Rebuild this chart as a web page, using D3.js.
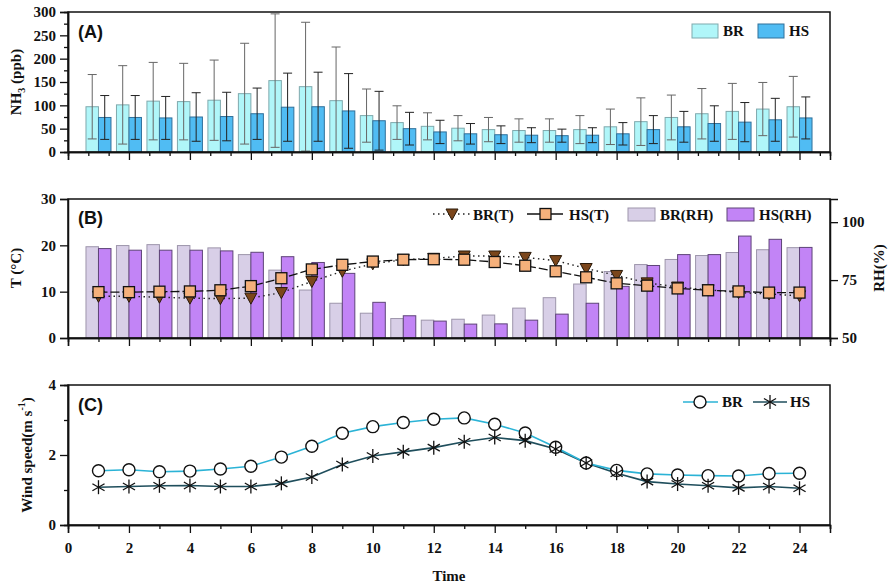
<!DOCTYPE html>
<html lang="en">
<head>
<meta charset="UTF-8">
<title>NH3, T/RH and wind speed diurnal</title>
<script src="https://d3js.org/d3.v7.min.js"></script>
<style>
    body { margin: 0; background: #fff; }
    svg text { font-family: "Liberation Serif", "Times New Roman", serif; font-weight: bold; fill: #111; }
    .tag { font-family: "Liberation Sans", Arial, sans-serif !important; }
    .axis path, .axis line { stroke: #111; }
</style>
</head>
<body>
<svg width="890" height="588"></svg>
<script>
    // ---- data ----
    const hours = [1,2,3,4,5,6,7,8,9,10,11,12,13,14,15,16,17,18,19,20,21,22,23,24];

    const nh3BR   = [97,101,109,108,111,125,153,140,110,78,63,55,51,48,46,46,48,54,65,74,82,87,92,97];
    const nh3BRsd = [69,84,83,82,86,108,143,138,115,57,36,29,27,26,25,25,30,38,51,48,54,60,57,65];
    const nh3HS   = [74,74,73,75,76,82,96,97,88,67,50,43,39,37,36,35,36,39,48,54,61,64,69,73];
    const nh3HSsd = [47,47,46,52,52,55,73,74,80,63,35,25,22,19,16,14,16,24,30,33,38,42,46,45];

    const tBR = [9.0,9.0,8.8,8.6,8.5,8.6,9.8,12.2,14.4,16.0,16.9,17.2,17.7,17.7,17.4,16.7,15.0,13.5,11.9,11.0,10.4,9.8,9.5,9.1];
    const tHS = [9.9,9.9,10.0,10.05,10.3,11.2,12.9,14.8,15.8,16.5,16.9,17.0,16.9,16.4,15.6,14.4,13.1,11.8,11.3,10.7,10.3,10.05,9.8,9.8];

    const rhBR = [89.4,89.9,90.3,89.9,88.9,86,79.3,70.7,65,60.7,58.4,57.7,58.1,59.9,62.9,67.4,73.3,78.7,81.7,83.9,85.6,86.9,88.1,89];
    const rhHS = [88.6,87.9,87.9,87.9,87.6,87,85.1,82.6,77.9,65.4,59.6,57.3,56,56.1,57.7,60.3,65,72.3,81.3,86,86,94,92.6,89.1];

    const windBR = [1.55,1.58,1.52,1.54,1.60,1.68,1.94,2.25,2.62,2.81,2.93,3.02,3.06,2.88,2.63,2.22,1.77,1.56,1.46,1.43,1.41,1.40,1.47,1.48];
    const windHS = [1.08,1.10,1.12,1.13,1.10,1.10,1.19,1.37,1.73,1.97,2.09,2.21,2.38,2.50,2.41,2.17,1.77,1.48,1.24,1.17,1.12,1.06,1.10,1.05];

    const xTicks = [0,2,4,6,8,10,12,14,16,18,20,22,24];

    // ---- layout ----
    const svg = d3.select("svg");
    const left = 68, right = 830;
    const x = d3.scaleLinear().domain([0, 25]).range([left, right]);
    const bw = (x(1) - x(0)) * 0.41;

    const yA = d3.scaleLinear().domain([0, 300]).range([152, 12]);
    const yT = d3.scaleLinear().domain([0, 30]).range([338, 199]);
    const yRH = d3.scaleLinear().domain([50, 110]).range([338, 199]);
    const yW = d3.scaleLinear().domain([0, 4]).range([525, 385]);

    function frame(y) {
        const [b, t] = y.range();
        svg.append("rect")
            .attr("x", left).attr("y", t)
            .attr("width", right - left).attr("height", b - t)
            .attr("fill", "none").attr("stroke", "#111").attr("stroke-width", 1.5);
    }

    function axisStyle(g) {
        g.attr("class", "axis");
        g.selectAll("path").attr("stroke-width", 1.5);
        g.selectAll("line").attr("stroke-width", 1.3);
        g.selectAll("text").style("font-size", "15px");
    }

    function bottomTicks(y, major, minor, labels) {
        const b = y.range()[0];
        svg.append("g").attr("transform", `translate(0,${b})`)
            .call(d3.axisBottom(x).tickValues(minor).tickSize(4).tickFormat(""))
            .call(axisStyle);
        const g = svg.append("g").attr("transform", `translate(0,${b})`)
            .call(d3.axisBottom(x).tickValues(major).tickSize(8).tickPadding(6)
                .tickFormat(labels ? d3.format("d") : ""))
            .call(axisStyle);
        g.selectAll("text").attr("dy", "0.9em");
    }

    function leftTicks(y, major, minor) {
        if (minor) {
            svg.append("g").attr("transform", `translate(${left},0)`)
                .call(d3.axisLeft(y).tickValues(minor).tickSize(4).tickFormat(""))
                .call(axisStyle);
        }
        svg.append("g").attr("transform", `translate(${left},0)`)
            .call(d3.axisLeft(y).tickValues(major).tickSize(8).tickPadding(4).tickFormat(d3.format("d")))
            .call(axisStyle);
    }

    function yTitle(txt, cx, cy, dir) {
        return svg.append("text")
            .attr("transform", `translate(${cx},${cy}) rotate(${dir || -90})`)
            .attr("text-anchor", "middle")
            .attr("dominant-baseline", "central")
            .style("font-size", "15px")
            .text(txt);
    }

    function tag(txt, ty) {
        svg.append("text").attr("class", "tag")
            .attr("x", 78).attr("y", ty)
            .style("font-size", "18px")
            .text(txt);
    }

    // ================= Panel A : NH3 =================
    const minorA = d3.range(0, 25.1, 2 / 3).filter(v => Math.abs(v / 2 - Math.round(v / 2)) > 0.01);

    const colA = {
        BR: {fill: "#b0f6f9", stroke: "#7fa9ad", err: "#666"},
        HS: {fill: "#50bcf3", stroke: "#30709a", err: "#222"}
    };

    function nh3Bars(vals, sds, c, off) {
        const g = svg.append("g");
        g.selectAll("rect").data(hours).enter().append("rect")
            .attr("x", (d) => x(d) + off)
            .attr("y", (d, i) => yA(vals[i]))
            .attr("width", bw)
            .attr("height", (d, i) => yA(0) - yA(vals[i]))
            .attr("fill", c.fill).attr("stroke", c.stroke).attr("stroke-width", 1);
        const e = svg.append("g").attr("stroke", c.err).attr("stroke-width", 1);
        hours.forEach((h, i) => {
            const cx = x(h) + off + bw / 2;
            const hi = yA(vals[i] + sds[i]);
            const lo = yA(Math.max(0, vals[i] - sds[i]));
            e.append("line").attr("x1", cx).attr("x2", cx).attr("y1", hi).attr("y2", lo);
            e.append("line").attr("x1", cx - 4.5).attr("x2", cx + 4.5).attr("y1", hi).attr("y2", hi);
            e.append("line").attr("x1", cx - 4.5).attr("x2", cx + 4.5).attr("y1", lo).attr("y2", lo);
        });
    }
    nh3Bars(nh3BR, nh3BRsd, colA.BR, -bw);
    nh3Bars(nh3HS, nh3HSsd, colA.HS, 0);

    frame(yA);
    bottomTicks(yA, xTicks, minorA, false);
    leftTicks(yA, d3.range(0, 301, 50), d3.range(25, 300, 50));
    tag("(A)", 38);

    const nh3Title = yTitle("", 16, 82);
    nh3Title.append("tspan").text("NH");
    nh3Title.append("tspan").attr("baseline-shift", "sub").style("font-size", "10px").text("3");
    nh3Title.append("tspan").text(" (ppb)");

    // legend A
    [["BR", colA.BR, 692], ["HS", colA.HS, 758]].forEach(([lab, c, lx]) => {
        svg.append("rect").attr("x", lx).attr("y", 24).attr("width", 26).attr("height", 14)
            .attr("fill", c.fill).attr("stroke", c.stroke);
        svg.append("text").attr("x", lx + 31).attr("y", 36).style("font-size", "15px").text(lab);
    });

    // ================= Panel B : T and RH =================
    const colB = {
        BR: {fill: "#d8cfe7", stroke: "#9d95ab"},
        HS: {fill: "#c284f6", stroke: "#5e4478"}
    };
    const rhBase = yRH(50);
    [[rhBR, colB.BR, -bw], [rhHS, colB.HS, 0]].forEach(([vals, c, off]) => {
        svg.append("g").selectAll("rect").data(hours).enter().append("rect")
            .attr("x", (d) => x(d) + off)
            .attr("y", (d, i) => yRH(vals[i]))
            .attr("width", bw)
            .attr("height", (d, i) => rhBase - yRH(vals[i]))
            .attr("fill", c.fill).attr("stroke", c.stroke).attr("stroke-width", 1);
    });

    const lineT = (vals) => d3.line().x((d) => x(d)).y((d, i) => yT(vals[i]))(hours);
    const triPath = "M-6,-5L6,-5L0,6Z";
    const sqSize = 11;

    svg.append("path").attr("d", lineT(tBR)).attr("fill", "none")
        .attr("stroke", "#222").attr("stroke-width", 1.4).attr("stroke-dasharray", "1.5,3.5");
    svg.append("g").selectAll("path").data(hours).enter().append("path")
        .attr("d", triPath)
        .attr("transform", (d, i) => `translate(${x(d)},${yT(tBR[i])})`)
        .attr("fill", "#7b461b").attr("stroke", "#2a1a0a").attr("stroke-width", 1);

    svg.append("path").attr("d", lineT(tHS)).attr("fill", "none")
        .attr("stroke", "#111").attr("stroke-width", 1.3).attr("stroke-dasharray", "9,3");
    svg.append("g").selectAll("rect").data(hours).enter().append("rect")
        .attr("x", (d) => x(d) - sqSize / 2)
        .attr("y", (d, i) => yT(tHS[i]) - sqSize / 2)
        .attr("width", sqSize).attr("height", sqSize)
        .attr("fill", "#f5b07b").attr("stroke", "#111").attr("stroke-width", 1.3);

    frame(yT);
    bottomTicks(yT, xTicks, hours.filter(h => h % 2 === 1).concat([25]), false);
    leftTicks(yT, [0, 10, 20, 30]);
    svg.append("g").attr("transform", `translate(${right},0)`)
        .call(d3.axisRight(yRH).tickValues([50, 75, 100]).tickSize(8).tickPadding(4))
        .call(axisStyle);
    tag("(B)", 224);
    yTitle("T (°C)", 16, 268);
    yTitle("RH(%)", 879, 268);

    // legend B
    svg.append("line").attr("x1", 433).attr("x2", 470).attr("y1", 214).attr("y2", 214)
        .attr("stroke", "#222").attr("stroke-width", 1.4).attr("stroke-dasharray", "1.5,3.5");
    svg.append("path").attr("d", triPath).attr("transform", "translate(452,214)")
        .attr("fill", "#7b461b").attr("stroke", "#2a1a0a");
    svg.append("text").attr("x", 473).attr("y", 220).style("font-size", "15px").text("BR(T)");
    svg.append("line").attr("x1", 527).attr("x2", 563).attr("y1", 214).attr("y2", 214)
        .attr("stroke", "#111").attr("stroke-width", 1.3);
    svg.append("rect").attr("x", 540).attr("y", 208.5).attr("width", 11).attr("height", 11)
        .attr("fill", "#f5b07b").attr("stroke", "#111").attr("stroke-width", 1.3);
    svg.append("text").attr("x", 569).attr("y", 220).style("font-size", "15px").text("HS(T)");
    [["BR(RH)", colB.BR, 628], ["HS(RH)", colB.HS, 727]].forEach(([lab, c, lx]) => {
        svg.append("rect").attr("x", lx).attr("y", 208).attr("width", 27).attr("height", 13)
            .attr("fill", c.fill).attr("stroke", c.stroke);
        svg.append("text").attr("x", lx + 32).attr("y", 220).style("font-size", "15px").text(lab);
    });

    // ================= Panel C : wind speed =================
    const lineW = (vals) => d3.line().x((d) => x(d)).y((d, i) => yW(vals[i]))(hours);
    const brLine = "#2bb3d6", hsLine = "#1f4e5c";

    function asterisk(g, r) {
        [90, 30, 150].forEach(a => {
            const dx = r * Math.cos(a * Math.PI / 180), dy = r * Math.sin(a * Math.PI / 180);
            g.append("line").attr("x1", -dx).attr("y1", -dy).attr("x2", dx).attr("y2", dy);
        });
    }

    svg.append("path").attr("d", lineW(windHS)).attr("fill", "none")
        .attr("stroke", hsLine).attr("stroke-width", 1.6);
    svg.append("path").attr("d", lineW(windBR)).attr("fill", "none")
        .attr("stroke", brLine).attr("stroke-width", 1.6);
    svg.append("g").selectAll("circle").data(hours).enter().append("circle")
        .attr("cx", (d) => x(d)).attr("cy", (d, i) => yW(windBR[i])).attr("r", 6)
        .attr("fill", "#fff").attr("stroke", "#111").attr("stroke-width", 1.4);
    hours.forEach((h, i) => {
        const g = svg.append("g").attr("transform", `translate(${x(h)},${yW(windHS[i])})`)
            .attr("stroke", "#111").attr("stroke-width", 1.3);
        asterisk(g, 7);
    });

    frame(yW);
    bottomTicks(yW, xTicks, hours.filter(h => h % 2 === 1).concat([25]), true);
    leftTicks(yW, [0, 2, 4], [1, 3]);
    tag("(C)", 411);
    const wTitle = yTitle("", 27, 455);
    wTitle.append("tspan").text("Wind speed(m s");
    wTitle.append("tspan").attr("baseline-shift", "super").style("font-size", "10px").text("-1");
    wTitle.append("tspan").text(")");

    svg.append("text").attr("x", 449).attr("y", 581).attr("text-anchor", "middle")
        .style("font-size", "15px").text("Time");

    // legend C
    svg.append("line").attr("x1", 683).attr("x2", 718).attr("y1", 402).attr("y2", 402)
        .attr("stroke", brLine).attr("stroke-width", 1.6);
    svg.append("circle").attr("cx", 700).attr("cy", 402).attr("r", 6)
        .attr("fill", "#fff").attr("stroke", "#111").attr("stroke-width", 1.4);
    svg.append("text").attr("x", 722).attr("y", 407).style("font-size", "15px").text("BR");
    svg.append("line").attr("x1", 753).attr("x2", 787).attr("y1", 402).attr("y2", 402)
        .attr("stroke", hsLine).attr("stroke-width", 1.6);
    asterisk(svg.append("g").attr("transform", "translate(770,402)")
        .attr("stroke", "#111").attr("stroke-width", 1.3), 7);
    svg.append("text").attr("x", 790).attr("y", 407).style("font-size", "15px").text("HS");
</script>
</body>
</html>
